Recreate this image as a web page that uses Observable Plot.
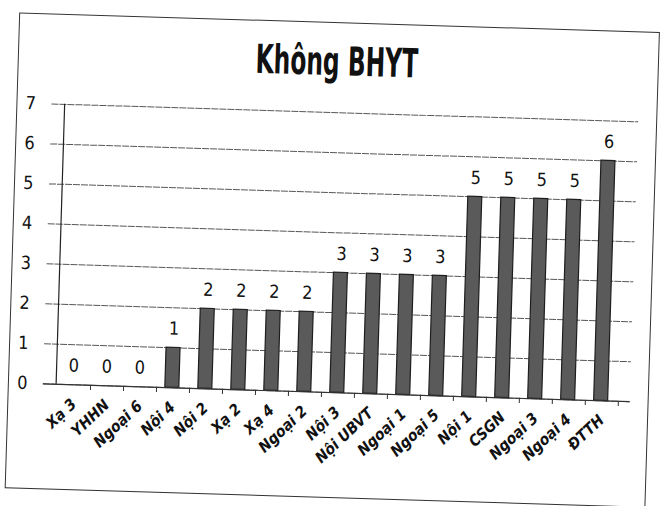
<!DOCTYPE html>
<html><head><meta charset="utf-8">
<script src="https://cdn.jsdelivr.net/npm/d3@7"></script>
<script src="https://cdn.jsdelivr.net/npm/@observablehq/plot@0.6"></script>
<style>
body{margin:0;background:#fff;overflow:hidden;}
#wrap{position:relative;width:660px;height:506px;transform:rotate(1.75deg);transform-origin:330px 253px;}
#frame{position:absolute;left:12px;top:22px;width:641px;height:476px;border:1.5px solid #333;box-sizing:border-box;pointer-events:none;}
#title{position:absolute;left:331px;top:41px;white-space:nowrap;font-size:40px;line-height:40px;font-weight:bold;color:#111;font-family:"DejaVu Sans Condensed","DejaVu Sans",sans-serif;transform:translateX(-50%) scaleX(0.65);}
#chart{position:absolute;left:0;top:90px;}
</style></head>
<body><div id="wrap"><div id="frame"></div><div id="title">Không BHYT</div><div id="chart"></div></div>
<script>
const categories = ["Xạ 3","YHHN","Ngoại 6","Nội 4","Nội 2","Xạ 2","Xạ 4","Ngoại 2","Nội 3","Nội UBVT","Ngoại 1","Ngoại 5","Nội 1","CSGN","Ngoại 3","Ngoại 4","ĐTTH"];
const values = [0,0,0,1,2,2,2,2,3,3,3,3,5,5,5,5,6];
const yTicks = [0,1,2,3,4,5,6,7];
const data = categories.map((c,i)=>({cat:c, val:values[i]}));
const W = 660, ML = 47, MR = 26;
const half = (W - ML - MR) / categories.length / 2;
const chart = Plot.plot({
  width:W, height:416,
  marginTop:22, marginBottom:114, marginLeft:ML, marginRight:MR,
  style:{fontFamily:"DejaVu Sans Condensed, DejaVu Sans, sans-serif", color:"#111", background:"transparent", overflow:"visible"},
  x:{domain:categories, padding:0.59, label:null},
  y:{domain:[0,7], ticks:yTicks, label:null},
  marks:[
    Plot.gridY(yTicks,{stroke:"#3a3a3a", strokeOpacity:0.85, strokeWidth:1, strokeDasharray:"7,1"}),
    Plot.barY(data,{x:"cat", y:"val", fill:"#5a5a5a", stroke:"#1e1e1e", strokeWidth:1.2}),
    Plot.text(data,{x:"cat", y:"val", text:d=>String(d.val), dy:-13, lineAnchor:"bottom", fontSize:18, fill:"#111"}),
    Plot.ruleY([0],{stroke:"#333", strokeWidth:1.2}),
    Plot.ruleX([categories[0]],{x:d=>d, dx:-half, y1:0, y2:7, stroke:"#222", strokeWidth:1.2}),
    Plot.ruleX(categories,{x:d=>d, dx:half, y1:0, y2:-0.13, stroke:"#333"}),
    Plot.axisY({ticks:yTicks, tickFormat:"d", tickSize:0, tickPadding:16, fontSize:18}),
    Plot.axisX({tickSize:0, tickRotate:-45, fontSize:15.5, fontStyle:"italic", fontWeight:"bold", tickPadding:17, dx:1})
  ]
});
document.getElementById("chart").appendChild(chart);
</script></body></html>
